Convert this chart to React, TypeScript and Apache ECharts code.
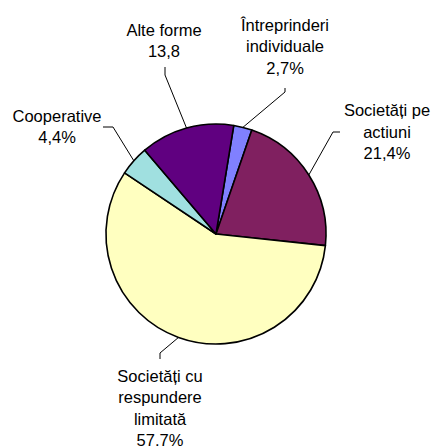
import React, { useEffect, useRef } from "react";
import * as echarts from "echarts";

const categories = [
  "Întreprinderi\nindividuale",
  "Societăți pe\nactiuni",
  "Societăți cu\nrespundere\nlimitată",
  "Cooperative",
  "Alte forme",
];
const values = [2.7, 21.4, 57.7, 4.4, 13.8];
const valueLabels = ["2,7%", "21,4%", "57.7%", "4,4%", "13,8"];

const colors = ["#8080FF", "#802060", "#FFFFC0", "#A0E0E0", "#600080"];

// label anchor (centre of text block), leader bend and leader end
const labelPos = [
  { x: 285, y: 46, bend: [285, 92], end: [285, 88] },
  { x: 387, y: 131.5, bend: [333, 132], end: [340, 132] },
  { x: 160, y: 408, bend: [160, 353], end: [160, 359] },
  { x: 57, y: 126.5, bend: [113, 127], end: [103, 127] },
  { x: 164, y: 40.5, bend: [165, 75], end: [165, 67] },
];

export default function App() {
  const ref = useRef<HTMLDivElement>(null);
  useEffect(() => {
    if (!ref.current) return;
    const chart = echarts.init(ref.current, null, { renderer: "svg" });
    const cx = 216;
    const cy = 234;
    const r = 110;
    chart.setOption({
      animation: false,
      backgroundColor: "#ffffff",
      series: [
        {
          type: "pie",
          center: [cx, cy],
          radius: r,
          startAngle: 80.7,
          clockwise: true,
          silent: true,
          data: categories.map((name, i) => ({
            name,
            value: values[i],
            itemStyle: { color: colors[i] },
          })),
          itemStyle: { borderColor: "#000", borderWidth: 1.6 },
          label: {
            show: true,
            formatter: (p: any) => `${p.name}\n${valueLabels[p.dataIndex]}`,
            fontFamily: "'Liberation Sans', Arial, sans-serif",
            fontSize: 16.5,
            lineHeight: 21.5,
            color: "#000",
            align: "center",
          },
          labelLine: {
            show: true,
            length: 10,
            length2: 8,
            lineStyle: { color: "#000", width: 1 },
          },
          labelLayout: (params: any) => {
            const i = params.dataIndex;
            const lp = labelPos[i];
            const pts = params.labelLinePoints;
            let start = pts && pts[0] ? pts[0] : [cx, cy];
            return {
              x: lp.x,
              y: lp.y,
              align: "center",
              verticalAlign: "middle",
              labelLinePoints: [start, lp.bend, lp.end],
            };
          },
        },
      ],
    });
    return () => chart.dispose();
  }, []);
  return (
    <div
      ref={ref}
      style={{ position: "absolute", left: 0, top: 0, width: 433, height: 446 }}
    />
  );
}
